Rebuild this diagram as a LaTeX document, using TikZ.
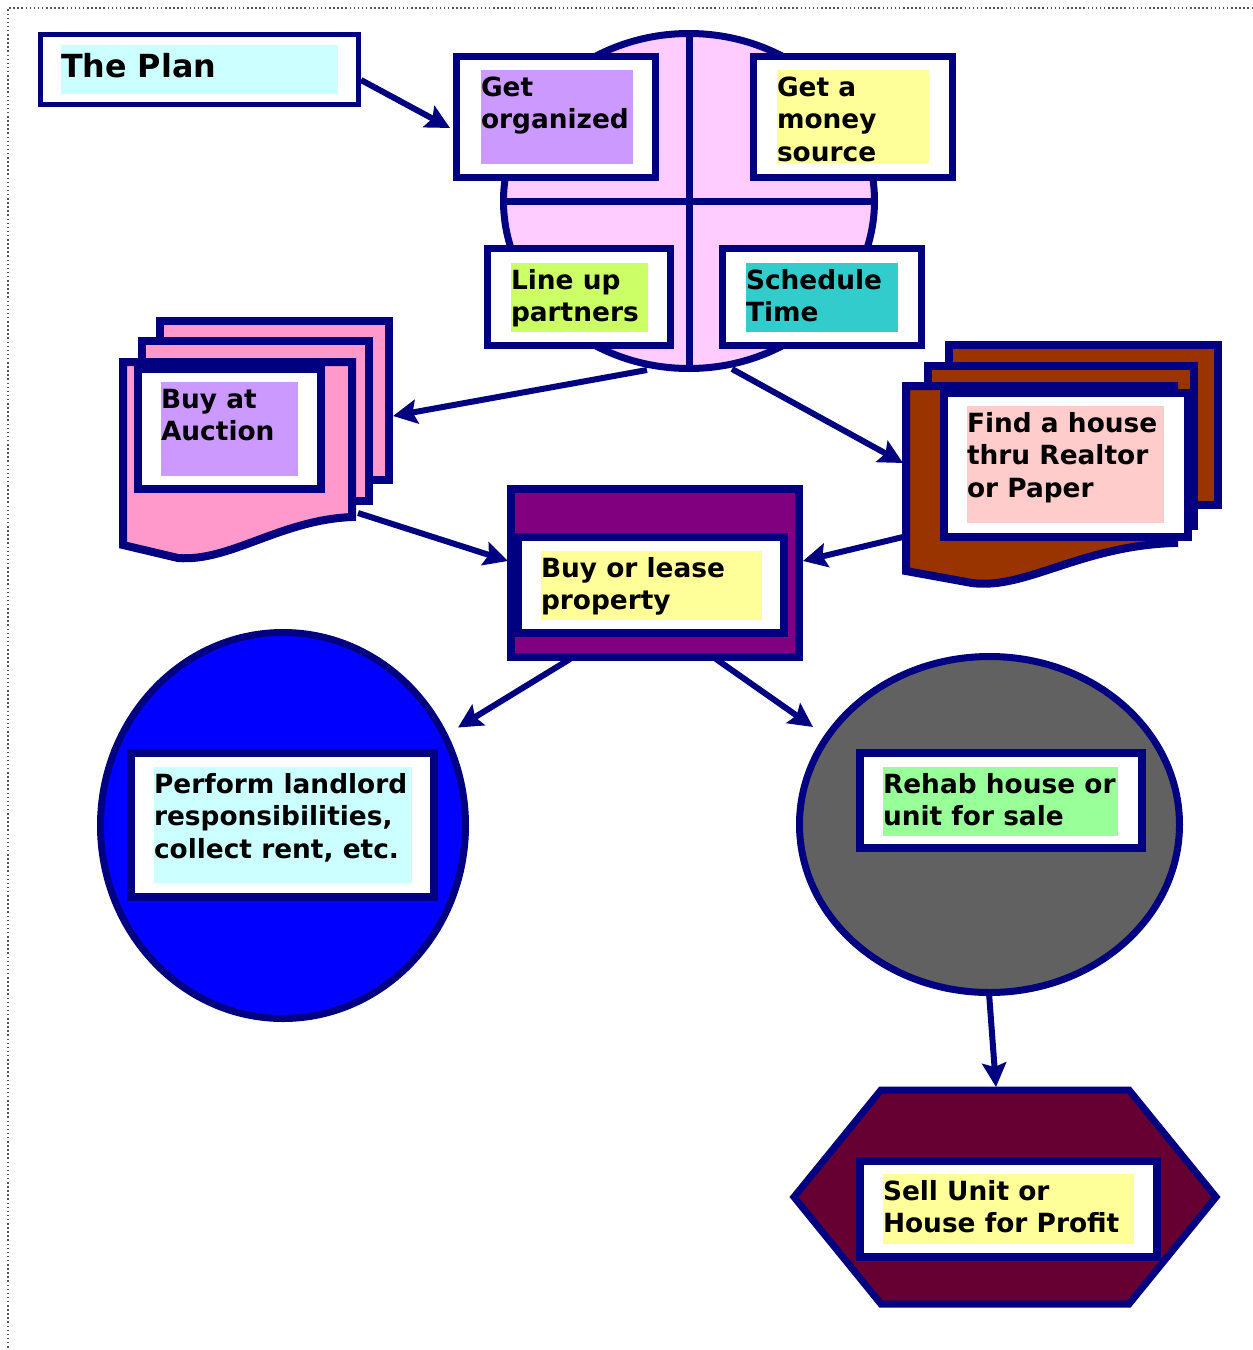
\documentclass[tikz,border=0pt]{standalone}
\usepackage{fontspec}
\setmainfont{DejaVu Sans}
\usetikzlibrary{shapes.geometric,arrows.meta,calc}
\definecolor{navy}{HTML}{000080}
\definecolor{circpink}{HTML}{FFCCFF}
\definecolor{hlpurple}{HTML}{CC99FF}
\definecolor{hlyellow}{HTML}{FFFF99}
\definecolor{hllime}{HTML}{CCFF66}
\definecolor{hlteal}{HTML}{33CCCC}
\definecolor{hlcyan}{HTML}{CCFFFF}
\definecolor{hlgreen}{HTML}{99FF99}
\definecolor{hlsalmon}{HTML}{FFCCCC}
\definecolor{docpink}{HTML}{FF99CC}
\definecolor{docbrown}{HTML}{993300}
\definecolor{boxpurple}{HTML}{800080}
\definecolor{circblue}{HTML}{0000FF}
\definecolor{circgray}{HTML}{616161}
\definecolor{hexred}{HTML}{660033}
\definecolor{dotgray}{HTML}{555555}
\begin{document}
\begin{tikzpicture}[x=1pt,y=-1pt,
  wbox/.style={draw=navy, fill=white, line width=7pt, inner sep=0pt, rectangle},
  dbox/.style={draw=navy, line width=8pt, inner sep=0pt, rectangle},
  ell/.style={draw=navy, line width=7pt, ellipse, inner sep=0pt},
  hl/.style={inner sep=0pt, outer sep=0pt, draw=none, anchor=north west},
  txt/.style={anchor=north west, inner sep=0pt, outer sep=0pt, align=left,
    font=\fontsize{26.4}{32.5}\selectfont\bfseries},
  arr/.style={draw=navy, line width=6pt, -{Stealth[length=24pt,width=24pt,inset=4pt]}},
  shp/.style={draw=navy, line width=8pt, line join=miter}
]
\useasboundingbox (0,0) rectangle (1253,1350);
% dotted frame
\draw[dotgray, line width=1.4pt, dash pattern=on 1.5pt off 2.6pt] (1253,8) -- (8,8) -- (8,1350);

% The Plan
\node[wbox, line width=5pt, minimum width=318pt, minimum height=70pt] (plan) at (199.5,69.5) {};
\node[hl, fill=hlcyan, minimum width=277pt, minimum height=49pt] (planHL) at (61,45) {};
\node[txt, font=\fontsize{31.8}{38}\selectfont\bfseries] (planT) at (planHL.north west) {\rule{0pt}{32pt}The Plan};

% top circle with cross
\node[ell, fill=circpink, minimum width=371pt, minimum height=335pt] (top) at (689,201) {};
\draw[navy, line width=7pt] (top.north) -- (top.south);
\draw[navy, line width=7pt] (top.west) -- (top.east);

\node[wbox, minimum width=199pt, minimum height=121pt] (org) at (556,117) {};
\node[hl, fill=hlpurple, minimum width=152pt, minimum height=94pt] (orgHL) at (481,70) {};
\node[txt] (orgT) at (orgHL.north west) {\rule{0pt}{26pt}Get\\organized};

\node[wbox, minimum width=199pt, minimum height=121pt] (money) at (853,117) {};
\node[hl, fill=hlyellow, minimum width=152pt, minimum height=93pt] (moneyHL) at (777,70) {};
\node[txt] (moneyT) at (moneyHL.north west) {\rule{0pt}{26pt}Get a\\money\\source};

\node[wbox, minimum width=183pt, minimum height=97pt] (partners) at (579,297) {};
\node[hl, fill=hllime, minimum width=137pt, minimum height=69pt] (partnersHL) at (511,263) {};
\node[txt] (partnersT) at (partnersHL.north west) {\rule{0pt}{26pt}Line up\\partners};

\node[wbox, minimum width=199pt, minimum height=97pt] (sched) at (822,297) {};
\node[hl, fill=hlteal, minimum width=152pt, minimum height=69pt] (schedHL) at (746,263) {};
\node[txt] (schedT) at (schedHL.north west) {\rule{0pt}{26pt}Schedule\\Time};

% Buy at Auction document stack
\node[dbox, fill=docpink, minimum width=229pt, minimum height=159pt] (auctionback) at (274.5,400.5) {};
\node[dbox, fill=docpink, minimum width=227pt, minimum height=160pt] (auctionmid) at (255.5,421) {};
\draw[shp, fill=docpink] (123,362) -- (352,362) -- (352,517)
  .. controls (280,520) and (230,562) .. (178,558) -- (123,545) -- cycle;
\node[dbox, fill=white, minimum width=183pt, minimum height=120pt] (auctionbox) at (229.5,429) {};
\node[hl, fill=hlpurple, minimum width=137pt, minimum height=94pt] (auctionHL) at (161,382) {};
\node[txt] (auctionT) at (auctionHL.north west) {\rule{0pt}{26pt}Buy at\\Auction};

% Find a house document stack
\node[dbox, fill=docbrown, minimum width=269pt, minimum height=160pt] (findback) at (1083.5,425) {};
\node[dbox, fill=docbrown, minimum width=266pt, minimum height=160pt] (findmid) at (1061,446) {};
\draw[shp, fill=docbrown] (906,386) -- (1174,386) -- (1174,543)
  .. controls (1080,546) and (1025,590) .. (972,583) -- (906,571) -- cycle;
\node[dbox, fill=white, minimum width=244pt, minimum height=144pt] (findbox) at (1066,465) {};
\node[hl, fill=hlsalmon, minimum width=197pt, minimum height=117pt] (findHL) at (967,406) {};
\node[txt] (findT) at (findHL.north west) {\rule{0pt}{26pt}Find a house\\thru Realtor\\or Paper};

% Buy or lease
\node[dbox, fill=boxpurple, minimum width=288pt, minimum height=168pt] (lease) at (655,573) {};
\node[dbox, fill=white, minimum width=266pt, minimum height=96pt] (leasebox) at (651,585) {};
\node[hl, fill=hlyellow, minimum width=221pt, minimum height=69pt] (leaseHL) at (541,551) {};
\node[txt] (leaseT) at (leaseHL.north west) {\rule{0pt}{26pt}Buy or lease\\property};

% Perform circle
\node[ell, fill=circblue, minimum width=365pt, minimum height=386pt] (perform) at (283,825.5) {};
\node[dbox, fill=white, minimum width=303pt, minimum height=144pt] (performbox) at (282.5,825) {};
\node[hl, fill=hlcyan, minimum width=258pt, minimum height=116pt] (performHL) at (154,767) {};
\node[txt] (performT) at (performHL.north west) {\rule{0pt}{26pt}Perform landlord\\responsibilities,\\collect rent, etc.};

% Rehab circle
\node[ell, fill=circgray, minimum width=380pt, minimum height=336pt] (rehab) at (989.5,824.5) {};
\node[dbox, fill=white, minimum width=282pt, minimum height=95pt] (rehabbox) at (1001,800.5) {};
\node[hl, fill=hlgreen, minimum width=235pt, minimum height=69pt] (rehabHL) at (883,767) {};
\node[txt] (rehabT) at (rehabHL.north west) {\rule{0pt}{26pt}Rehab house or\\unit for sale};

% Sell hexagon
\draw[navy, line width=7pt, line join=miter, fill=hexred] (881,1090) -- (1129,1090) -- (1216,1197)
  -- (1129,1304) -- (881,1304) -- (794,1197) -- cycle;
\node[dbox, fill=white, minimum width=297pt, minimum height=96pt] (sellbox) at (1008.5,1209) {};
\node[hl, fill=hlyellow, minimum width=251pt, minimum height=70pt] (sellHL) at (883,1174) {};
\node[txt] (sellT) at (sellHL.north west) {\rule{0pt}{26pt}Sell Unit or\\House for Profit};

% connectors
\draw[arr] ($(plan.east)+(0,10.5)$) -- ($(org.west)+(-3,11)$);
\draw[arr] ($(top.south)+(-42,-2)$) -- ($(auctionback.east)+(0,15.5)$);
\draw[arr] ($(top.south)+(43,-3)$) -- ($(findmid.west)+(-21,17)$);
\draw[arr] ($(auctionmid.south east)+(-15,8)$) -- ($(lease.west)+(1,-12)$);
\draw[arr] ($(findmid.west)+(-21,91)$) -- ($(lease.east)+(0,-12)$);
\draw[arr] ($(lease.south)+(-85,-2)$) -- ($(perform.center)+(175,-98)$);
\draw[arr] ($(lease.south)+(61,-2)$) -- ($(rehab.center)+(-176.5,-97.5)$);
\draw[arr] ($(rehab.south)+(-0.5,-3)$) -- ($(sellbox.north)+(-12.5,-70)$);
\end{tikzpicture}
\end{document}
